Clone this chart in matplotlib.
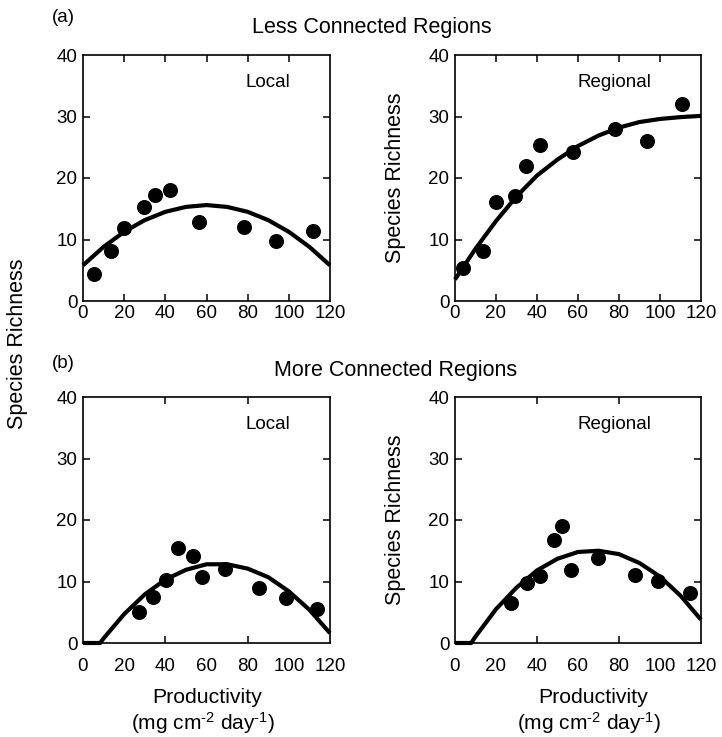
import numpy as np
import matplotlib.pyplot as plt

plt.rcParams['font.family'] = ['Liberation Sans', 'DejaVu Sans']
plt.rcParams['mathtext.fontset'] = 'custom'
plt.rcParams['mathtext.rm'] = 'Liberation Sans'
plt.rcParams['mathtext.default'] = 'regular'

# --- data ---
# (a) less connected, local
la_x = [5.2, 13.6, 19.7, 29.7, 35.1, 42.2, 56.4, 78.0, 94.0, 111.5]
la_y = [4.4, 8.1, 11.8, 15.3, 17.2, 18.0, 12.9, 12.0, 9.8, 11.4]
# (a) less connected, regional
ra_x = [3.9, 13.9, 20.0, 29.2, 34.8, 41.5, 57.6, 78.2, 93.7, 110.6]
ra_y = [5.3, 8.1, 16.1, 17.0, 22.0, 25.3, 24.2, 28.0, 26.0, 32.0]
# (b) more connected, local
lb_x = [27.1, 34.0, 40.2, 46.1, 53.4, 57.9, 69.0, 85.6, 98.5, 113.9]
lb_y = [5.1, 7.4, 10.3, 15.5, 14.1, 10.8, 12.1, 8.9, 7.3, 5.6]
# (b) more connected, regional
rb_x = [27.5, 35.3, 41.3, 48.1, 52.2, 56.7, 69.8, 87.6, 99.2, 114.5]
rb_y = [6.5, 9.8, 10.9, 16.8, 19.1, 11.8, 13.9, 11.0, 10.1, 8.2]

# fitted curves
fit_x = [0, 10, 20, 30, 40, 50, 60, 70, 80, 90, 100, 110, 120]
fit_la = [5.8, 8.8, 11.25, 13.15, 14.5, 15.3, 15.6, 15.3, 14.5, 13.15, 11.25, 8.8, 5.8]
fit_ra = [3.5, 8.5, 13.0, 17.0, 20.4, 23.0, 25.2, 26.9, 28.2, 29.1, 29.6, 29.9, 30.1]
fitb_x = [0, 8.3, 10, 20, 30, 40, 50, 60, 70, 80, 90, 100, 110, 120]
fit_lb = [0, 0, 0.75, 4.7, 7.9, 10.3, 11.9, 12.8, 12.8, 12.1, 10.7, 8.4, 5.4, 1.6]
fitb2_x = [0, 7.9, 10, 20, 30, 40, 50, 60, 70, 80, 90, 100, 110, 120]
fit_rb = [0, 0, 1.05, 5.5, 9.0, 11.8, 13.7, 14.8, 15.0, 14.45, 13.0, 10.8, 7.7, 3.8]

xlabels = [0, 20, 40, 60, 80, 100, 120]

fig = plt.figure(figsize=(7.22, 7.37), dpi=100)
W, H = 722, 737


def make_ax(l, r, t, b):
    return fig.add_axes([l / W, 1 - b / H, (r - l) / W, (b - t) / H])


ax1 = make_ax(83, 330, 55, 301)
ax2 = make_ax(455, 701, 55, 301)
ax3 = make_ax(83, 330, 397, 643)
ax4 = make_ax(455, 701, 397, 643)

panels = [
    (ax1, la_x, la_y, fit_x, fit_la, 'Local', [20, 40, 60, 80, 100], 3),
    (ax2, ra_x, ra_y, fit_x, fit_ra, 'Regional', [20, 40, 60, 80, 100], 3),
    (ax3, lb_x, lb_y, fitb_x, fit_lb, 'Local', [40, 80], 11),
    (ax4, rb_x, rb_y, fitb2_x, fit_rb, 'Regional', [40, 80], 11),
]

for ax, px, py, cx, cy, name, mticks, xpad in panels:
    ax.plot(cx, cy, color='black', lw=3.0, solid_capstyle='butt', clip_on=False)
    ax.plot(px, py, 'o', color='black', ms=9.8)
    ax.set_xlim(0, 120)
    ax.set_ylim(0, 40)
    ax.xaxis.remove_overlapping_locs = False
    ax.yaxis.remove_overlapping_locs = False
    ax.set_xticks(xlabels)
    ax.set_yticks([0, 10, 20, 30, 40])
    ax.tick_params(axis='both', which='major', length=0, labelsize=13.5)
    ax.tick_params(axis='x', which='major', pad=xpad)
    ax.tick_params(axis='y', which='major', pad=4)
    ax.set_xticks(mticks, minor=True)
    ax.set_yticks([10, 20, 30], minor=True)
    ax.tick_params(which='minor', direction='in', length=5, width=1.1,
                   top=True, right=True)
    for s in ax.spines.values():
        s.set_linewidth(1.2)
    ax.text(90 if name == 'Local' else 78, 35.5, name, ha='center', va='center', fontsize=13.5)

for ax in (ax2, ax4):
    ax.set_ylabel('Species Richness', fontsize=15.5)
    ax.yaxis.set_label_coords(-0.199, 0.5)

fig.text(18 / W, 1 - 344 / H, 'Species Richness', rotation=90, ha='center', va='center', fontsize=15.5)
fig.text(63 / W, 1 - 18 / H, '(a)', ha='center', va='center', fontsize=13.5)
fig.text(63 / W, 1 - 363 / H, '(b)', ha='center', va='center', fontsize=13.5)
fig.text(372 / W, 1 - 28 / H, 'Less Connected Regions', ha='center', va='center', fontsize=15.5)
fig.text(396 / W, 1 - 370 / H, 'More Connected Regions', ha='center', va='center', fontsize=15.5)

for ax, cx1, cx2 in [(ax3, 0.504, 0.486), (ax4, 0.561, 0.545)]:
    ax.text(cx1, -0.223, 'Productivity', transform=ax.transAxes, ha='center', va='center', fontsize=15.3)
    ax.text(cx2, -0.324, '(mg cm$^{\u20102}$ day$^{\u20101}$)', transform=ax.transAxes,
            ha='center', va='center', fontsize=15)

plt.savefig('out.png', dpi=100)
